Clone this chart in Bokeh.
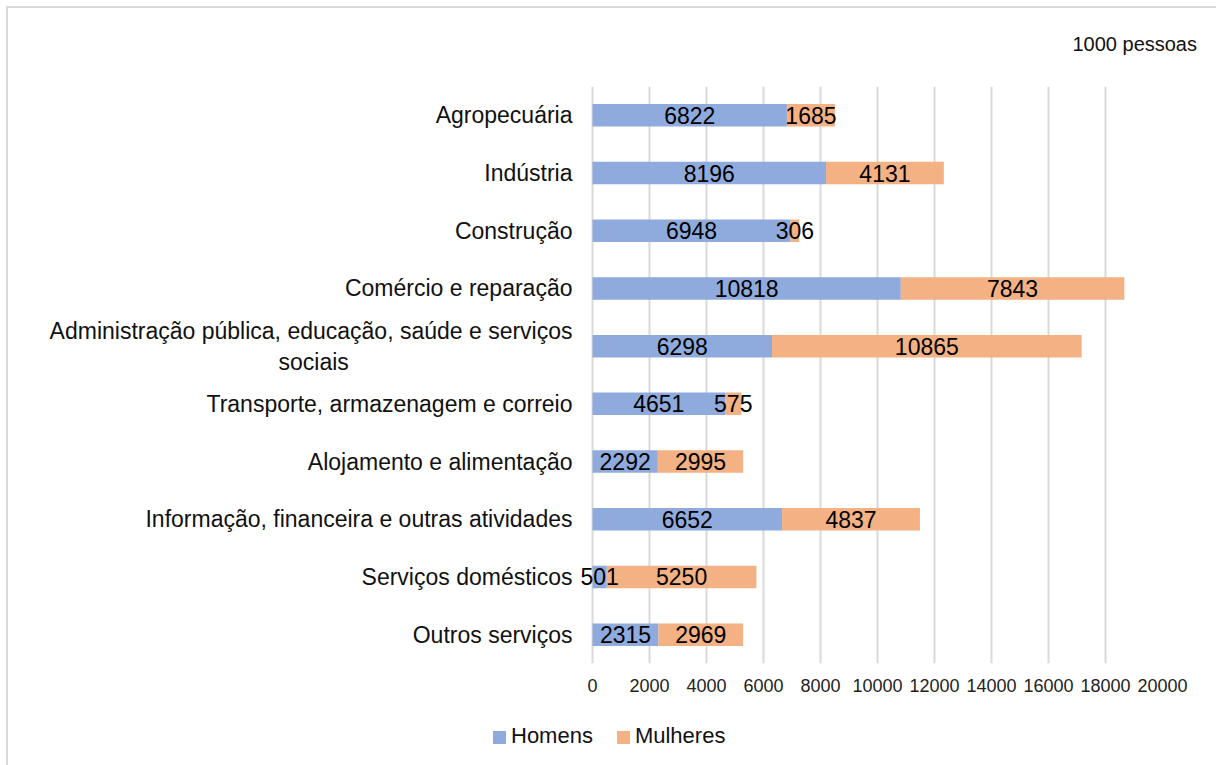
from bokeh.plotting import figure
from bokeh.layouts import column
from bokeh.models import ColumnDataSource, FixedTicker, Range1d, Div
from bokeh.core.properties import value
from bokeh.embed import file_html
from bokeh.resources import INLINE

categories = [
    "Agropecuária",
    "Indústria",
    "Construção",
    "Comércio e reparação",
    "Administração pública, educação, saúde e serviços\nsociais" + "\u00a0" * 35,
    "Transporte, armazenagem e correio",
    "Alojamento e alimentação",
    "Informação, financeira e outras atividades",
    "Serviços domésticos",
    "Outros serviços",
]
homens = [6822, 8196, 6948, 10818, 6298, 4651, 2292, 6652, 501, 2315]
mulheres = [1685, 4131, 306, 7843, 10865, 575, 2995, 4837, 5250, 2969]
x_ticks = [0, 2000, 4000, 6000, 8000, 10000, 12000, 14000, 16000, 18000, 20000]
series_names = ["Homens", "Mulheres"]
colors = ["#8FAADC", "#F4B183"]
unit_text = "1000 pessoas"

FONT = "Liberation Sans"

src = ColumnDataSource(dict(
    cat=categories,
    Homens=homens,
    Mulheres=mulheres,
    hmid=[h / 2 for h in homens],
    mmid=[h + m / 2 for h, m in zip(homens, mulheres)],
    htxt=[str(h) for h in homens],
    mtxt=[str(m) for m in mulheres],
))

# unit note above the chart
top = Div(
    width=1204, height=50,
    text=(f'<div style="width:1184px;text-align:right;padding-top:20px;'
          f'font-family:\'{FONT}\';font-size:20px;line-height:23px;color:#111111;white-space:nowrap">'
          f'{unit_text}</div>'),
)

p = figure(
    frame_width=584, frame_height=577,
    y_range=list(reversed(categories)),
    x_range=Range1d(-491, 20000),
    output_backend="svg", toolbar_location=None,
    min_border_left=570, min_border_right=50, min_border_top=18, min_border_bottom=45,
)
p.outline_line_color = None
p.background_fill_color = "white"
p.border_fill_color = "white"

renderers = p.hbar_stack(series_names, y="cat", height=0.39, color=colors, source=src, line_color=None)

p.text(x="hmid", y="cat", text="htxt", source=src, text_align="center", text_baseline="middle",
       text_font=value(FONT), text_font_size="23px", text_color="black")
p.text(x="mmid", y="cat", text="mtxt", source=src, text_align="center", text_baseline="middle",
       text_font=value(FONT), text_font_size="23px", text_color="black")

p.xaxis.ticker = FixedTicker(ticks=x_ticks)
p.xaxis.axis_line_color = None
p.xaxis.major_tick_line_color = None
p.xaxis.major_tick_out = 0
p.xaxis.major_tick_in = 0
p.xaxis.minor_tick_line_color = None
p.xaxis.major_label_text_font = FONT
p.xaxis.major_label_text_font_size = "18px"
p.xaxis.major_label_text_color = "#222222"
p.xaxis.major_label_standoff = 15

p.yaxis.axis_line_color = None
p.yaxis.major_tick_line_color = None
p.yaxis.major_tick_out = 0
p.yaxis.major_tick_in = 0
p.yaxis.minor_tick_line_color = None
p.yaxis.major_label_text_font = FONT
p.yaxis.major_label_text_font_size = "23px"
p.yaxis.major_label_text_color = "#111111"
p.yaxis.major_label_standoff = 6

p.xgrid.grid_line_color = "#d9d9d9"
p.xgrid.grid_line_width = 2
p.ygrid.grid_line_color = None

# legend strip below the chart
sq = 'display:inline-block;width:13px;height:13px;vertical-align:middle;'
legend_html = (
    f'<div style="padding-left:480px;padding-top:10px;font-family:\'{FONT}\';font-size:22px;'
    f'line-height:25px;color:#111111;white-space:nowrap">'
    f'<span style="{sq}background:{colors[0]};margin-right:5px"></span>{series_names[0]}'
    f'<span style="{sq}background:{colors[1]};margin-left:24px;margin-right:5px"></span>{series_names[1]}'
    f'</div>'
)
leg = Div(width=1204, height=50, text=legend_html)

layout = column(top, p, leg, spacing=0)
layout.styles = {"margin-left": "6px", "margin-top": "6px",
                 "border-top": "2px solid #d9d9d9", "border-left": "2px solid #d9d9d9"}

open("out.html", "w").write(file_html(layout, INLINE))
